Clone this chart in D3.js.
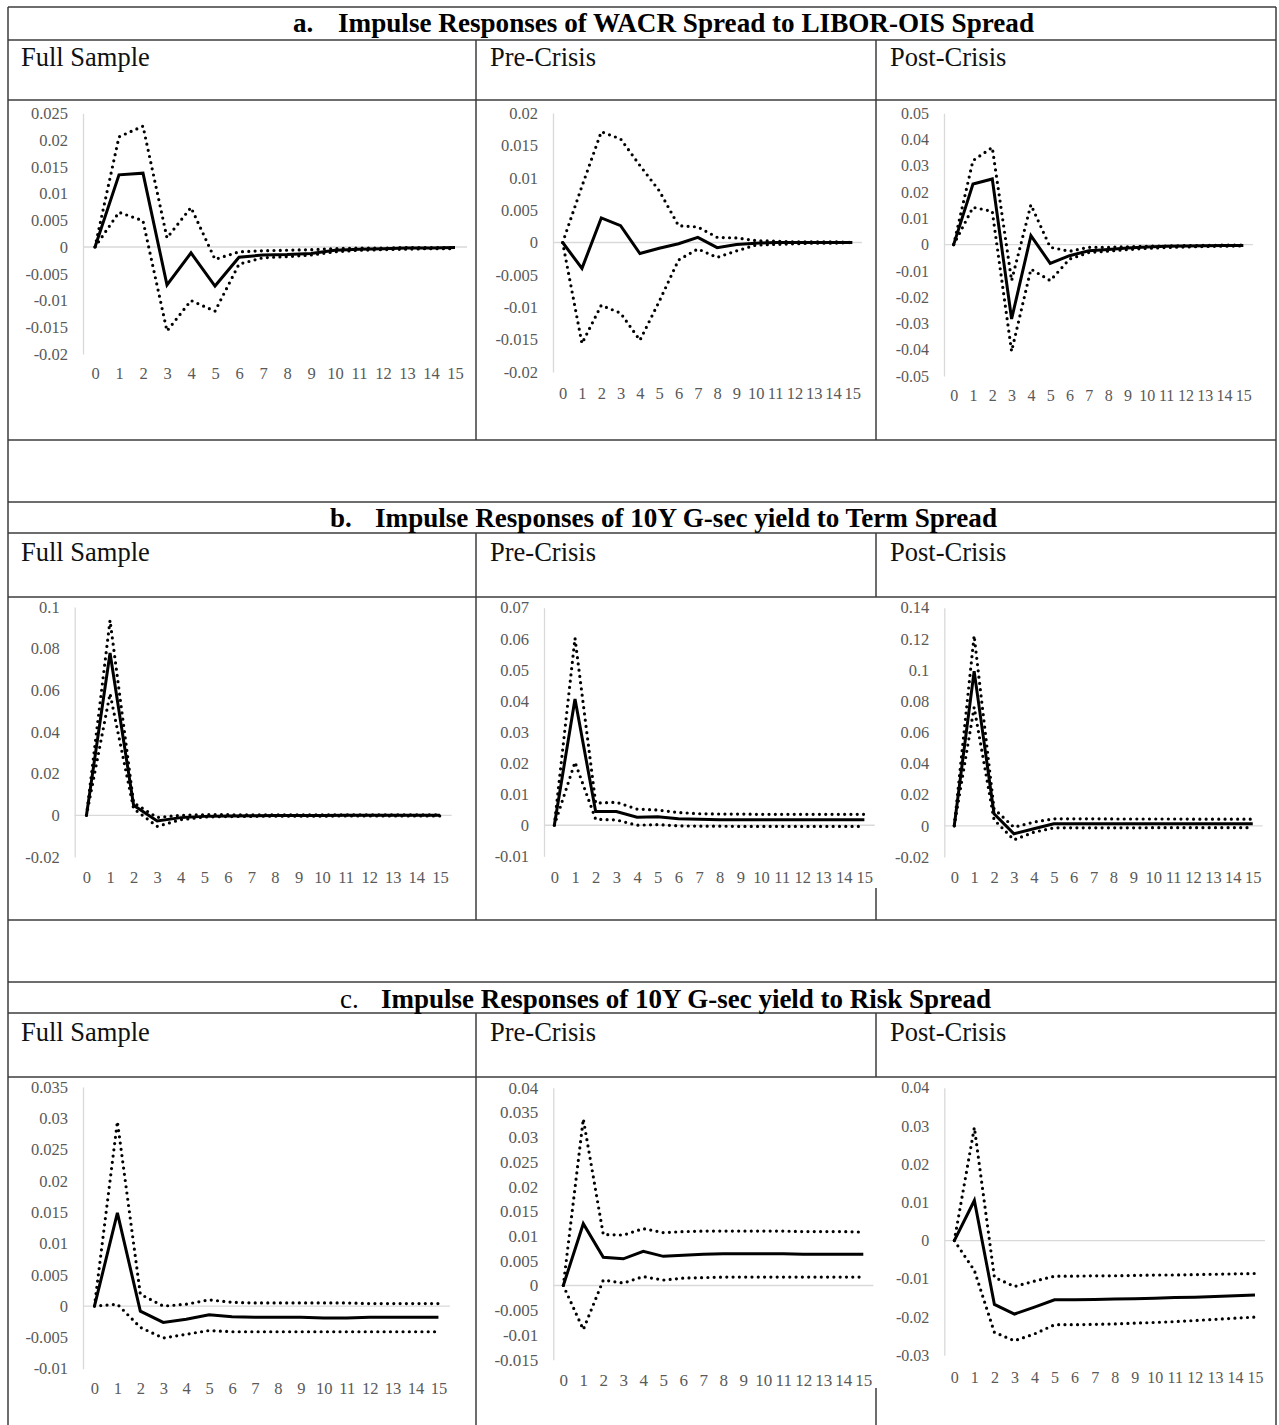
<!DOCTYPE html>
<html><head><meta charset="utf-8">
<script src="https://cdn.jsdelivr.net/npm/d3@7/dist/d3.min.js"></script>
<style>
html,body{margin:0;padding:0;background:#fff;}
svg{display:block;}
</style></head>
<body>
<svg id="chart" width="1279" height="1425"></svg>
<script>
// ---------- DATA ----------
const horizons = ["0","1","2","3","4","5","6","7","8","9","10","11","12","13","14","15"];
const sectionLetters = ["a.", "b.", "c."];
const sectionTitles = [
  "Impulse Responses of WACR Spread to LIBOR-OIS Spread",
  "Impulse Responses of 10Y G-sec yield to Term Spread",
  "Impulse Responses of 10Y G-sec yield to Risk Spread"
];
const sampleNames = ["Full Sample", "Pre-Crisis", "Post-Crisis"];

// a. WACR spread to LIBOR-OIS spread
const aFullIrf   = [0, 0.0135, 0.0138, -0.0071, -0.0011, -0.0073, -0.0019, -0.0015, -0.0014, -0.0012, -0.0006, -0.0004, -0.0003, -0.0002, -0.0002, -0.0001];
const aFullUpper = [0, 0.0206, 0.0226, 0.0017, 0.0074, -0.0023, -0.0009, -0.0007, -0.0006, -0.0005, -0.0003, -0.0002, -0.0002, -0.0001, -0.0001, -0.0001];
const aFullLower = [0, 0.0065, 0.0049, -0.0157, -0.0100, -0.0120, -0.0032, -0.0020, -0.0018, -0.0015, -0.0009, -0.0006, -0.0005, -0.0004, -0.0003, -0.0003];
const aFullTicks = [-0.02, -0.015, -0.01, -0.005, 0, 0.005, 0.01, 0.015, 0.02, 0.025];

const aPreIrf   = [0, -0.0040, 0.0038, 0.0026, -0.0017, -0.0009, -0.0002, 0.0008, -0.0008, -0.0003, -0.0001, 0, 0, 0, 0, 0];
const aPreUpper = [0, 0.0087, 0.0171, 0.0160, 0.0119, 0.0080, 0.0026, 0.0024, 0.0008, 0.0007, 0.0003, 0.0002, 0.0001, 0.0001, 0.0001, 0];
const aPreLower = [0, -0.0156, -0.0097, -0.0109, -0.0151, -0.0091, -0.0027, -0.0010, -0.0023, -0.0013, -0.0004, -0.0003, -0.0002, -0.0001, -0.0001, 0];
const aPreTicks = [-0.02, -0.015, -0.01, -0.005, 0, 0.005, 0.01, 0.015, 0.02];

const aPostIrf   = [0, 0.0231, 0.0250, -0.0283, 0.0034, -0.0071, -0.0042, -0.0023, -0.0018, -0.0013, -0.0009, -0.0006, -0.0005, -0.0004, -0.0003, -0.0003];
const aPostUpper = [0, 0.0320, 0.0370, -0.0137, 0.0152, -0.0010, -0.0025, -0.0010, -0.0010, -0.0008, -0.0006, -0.0005, -0.0004, -0.0003, -0.0002, -0.0002];
const aPostLower = [0, 0.0142, 0.0127, -0.0406, -0.0093, -0.0137, -0.0055, -0.0030, -0.0025, -0.0019, -0.0014, -0.0011, -0.0009, -0.0007, -0.0006, -0.0005];
const aPostTicks = [-0.05, -0.04, -0.03, -0.02, -0.01, 0, 0.01, 0.02, 0.03, 0.04, 0.05];

// b. 10Y G-sec yield to term spread
const bFullIrf   = [0, 0.0779, 0.0048, -0.0027, -0.0011, -0.0005, -0.0003, -0.0002, -0.0001, -0.0001, -0.0001, 0, 0, 0, 0, 0];
const bFullUpper = [0, 0.0936, 0.0060, -0.0010, 0.0000, 0.0003, 0.0003, 0.0002, 0.0002, 0.0002, 0.0002, 0.0002, 0.0002, 0.0002, 0.0002, 0.0002];
const bFullLower = [0, 0.0584, 0.0032, -0.0053, -0.0021, -0.0008, -0.0006, -0.0005, -0.0004, -0.0004, -0.0004, -0.0003, -0.0003, -0.0003, -0.0003, -0.0003];
const bFullTicks = [-0.02, 0, 0.02, 0.04, 0.06, 0.08, 0.1];

const bPreIrf   = [0, 0.0406, 0.0044, 0.0044, 0.0026, 0.0027, 0.0021, 0.0019, 0.0018, 0.0018, 0.0018, 0.0018, 0.0018, 0.0018, 0.0018, 0.0018];
const bPreUpper = [0, 0.0602, 0.0071, 0.0074, 0.0052, 0.0049, 0.0041, 0.0037, 0.0036, 0.0036, 0.0035, 0.0035, 0.0035, 0.0035, 0.0035, 0.0035];
const bPreLower = [0, 0.0203, 0.0019, 0.0017, 0.0000, 0.0002, -0.0002, -0.0003, -0.0003, -0.0004, -0.0004, -0.0004, -0.0004, -0.0004, -0.0004, -0.0004];
const bPreTicks = [-0.01, 0, 0.01, 0.02, 0.03, 0.04, 0.05, 0.06, 0.07];

const bPostIrf   = [0, 0.0993, 0.0077, -0.0051, -0.0019, 0.0013, 0.0013, 0.0013, 0.0013, 0.0013, 0.0013, 0.0013, 0.0013, 0.0013, 0.0013, 0.0013];
const bPostUpper = [0, 0.1221, 0.0109, -0.0009, 0.0024, 0.0045, 0.0045, 0.0045, 0.0044, 0.0044, 0.0044, 0.0044, 0.0043, 0.0043, 0.0043, 0.0043];
const bPostLower = [0, 0.0761, 0.0039, -0.0090, -0.0041, -0.0013, -0.0013, -0.0013, -0.0013, -0.0013, -0.0012, -0.0012, -0.0012, -0.0012, -0.0012, -0.0012];
const bPostTicks = [-0.02, 0, 0.02, 0.04, 0.06, 0.08, 0.1, 0.12, 0.14];

// c. 10Y G-sec yield to risk spread
const cFullIrf   = [0, 0.0149, -0.0008, -0.0026, -0.0021, -0.0014, -0.0017, -0.0018, -0.0018, -0.0018, -0.0019, -0.0019, -0.0018, -0.0018, -0.0018, -0.0018];
const cFullUpper = [0, 0.0295, 0.0019, 0.0000, 0.0003, 0.0010, 0.0006, 0.0005, 0.0005, 0.0005, 0.0005, 0.0005, 0.0004, 0.0004, 0.0004, 0.0004];
const cFullLower = [0, 0.0003, -0.0034, -0.0051, -0.0045, -0.0039, -0.0041, -0.0041, -0.0041, -0.0041, -0.0041, -0.0041, -0.0041, -0.0041, -0.0041, -0.0041];
const cFullTicks = [-0.01, -0.005, 0, 0.005, 0.01, 0.015, 0.02, 0.025, 0.03, 0.035];

const cPreIrf   = [0, 0.0125, 0.0057, 0.0054, 0.0069, 0.0059, 0.0061, 0.0063, 0.0064, 0.0064, 0.0064, 0.0064, 0.0063, 0.0063, 0.0063, 0.0063];
const cPreUpper = [0, 0.0337, 0.0103, 0.0102, 0.0115, 0.0107, 0.0109, 0.0110, 0.0110, 0.0110, 0.0110, 0.0110, 0.0109, 0.0109, 0.0109, 0.0108];
const cPreLower = [0, -0.0089, 0.0011, 0.0005, 0.0018, 0.0011, 0.0015, 0.0016, 0.0017, 0.0017, 0.0017, 0.0017, 0.0017, 0.0017, 0.0017, 0.0017];
const cPreTicks = [-0.015, -0.01, -0.005, 0, 0.005, 0.01, 0.015, 0.02, 0.025, 0.03, 0.035, 0.04];

const cPostIrf   = [0, 0.0105, -0.0167, -0.0192, -0.0174, -0.0155, -0.0155, -0.0154, -0.0153, -0.0152, -0.0151, -0.0149, -0.0148, -0.0146, -0.0144, -0.0142];
const cPostUpper = [0, 0.0296, -0.0096, -0.0120, -0.0106, -0.0093, -0.0093, -0.0092, -0.0092, -0.0091, -0.0090, -0.0090, -0.0089, -0.0088, -0.0087, -0.0086];
const cPostLower = [0, -0.0078, -0.0240, -0.0262, -0.0244, -0.0220, -0.0220, -0.0219, -0.0218, -0.0216, -0.0214, -0.0212, -0.0209, -0.0206, -0.0203, -0.0200];
const cPostTicks = [-0.03, -0.02, -0.01, 0, 0.01, 0.02, 0.03, 0.04];

// ---------- LAYOUT (pixel geometry, separate from data) ----------
const panels = [
  {irf:aFullIrf, up:aFullUpper, lo:aFullLower, ticks:aFullTicks, ax:83,    ex:467,    yt:113.3, yb:354,    xl:373,   fs:16.5},
  {irf:aPreIrf,  up:aPreUpper,  lo:aPreLower,  ticks:aPreTicks,  ax:553,   ex:862,    yt:113,   yb:372,    xl:393,   fs:16.5},
  {irf:aPostIrf, up:aPostUpper, lo:aPostLower, ticks:aPostTicks, ax:944,   ex:1253,   yt:113.3, yb:376,    xl:395,   fs:16},
  {irf:bFullIrf, up:bFullUpper, lo:bFullLower, ticks:bFullTicks, ax:74.7,  ex:451.7,  yt:607,   yb:857,    xl:877,   fs:16.5},
  {irf:bPreIrf,  up:bPreUpper,  lo:bPreLower,  ticks:bPreTicks,  ax:544,   ex:874.7,  yt:607.7, yb:856.3,  xl:877,   fs:16.5},
  {irf:bPostIrf, up:bPostUpper, lo:bPostLower, ticks:bPostTicks, ax:944.3, ex:1262.7, yt:607.7, yb:857,    xl:877,   fs:16.5},
  {irf:cFullIrf, up:cFullUpper, lo:cFullLower, ticks:cFullTicks, ax:83,    ex:449.9,  yt:1087,  yb:1368.7, xl:1388.7,fs:16.5},
  {irf:cPreIrf,  up:cPreUpper,  lo:cPreLower,  ticks:cPreTicks,  ax:553.3, ex:873.3,  yt:1087.7,yb:1359.7, xl:1380.3,fs:17},
  {irf:cPostIrf, up:cPostUpper, lo:cPostLower, ticks:cPostTicks, ax:944.3, ex:1265,   yt:1087.7,yb:1355.3, xl:1377,  fs:16}
];
const titleLayout = [{lx:293, tx:338, ex:1034, by:32}, {lx:330, tx:375, ex:997, by:527}, {lx:340, tx:381, ex:991, by:1008}];
const subBase = [66, 561, 1041];
const subX = [21, 490, 890];

const svg = d3.select("#chart");
const serif = "'Liberation Serif','Times New Roman',Times,serif";
const lineColor = "#3c3c3c";

// ---------- TABLE GRID ----------
const grid = svg.append("g").attr("stroke", lineColor).attr("stroke-width", 1.5);
const hLines = [7, 40, 100, 440, 502, 533, 597, 920, 982, 1013, 1077];
hLines.forEach(y => grid.append("line").attr("x1", 8).attr("x2", 1276).attr("y1", y).attr("y2", y));
grid.append("line").attr("x1", 8).attr("x2", 8).attr("y1", 7).attr("y2", 1425);
grid.append("line").attr("x1", 1276).attr("x2", 1276).attr("y1", 7).attr("y2", 1425);
const vSegs = [
  [476, 40, 440], [476, 533, 920], [476, 1013, 1425],
  [876, 40, 440], [876, 533, 597], [876, 888, 920], [876, 1013, 1077], [876, 1388, 1425]
];
vSegs.forEach(s => grid.append("line").attr("x1", s[0]).attr("x2", s[0]).attr("y1", s[1]).attr("y2", s[2]));

// ---------- TITLES ----------
sectionTitles.forEach((t, i) => {
  const L = titleLayout[i];
  svg.append("text").attr("x", L.lx).attr("y", L.by)
    .attr("font-family", serif).attr("font-size", 27)
    .attr("font-weight", i === 2 ? "normal" : "bold")
    .text(sectionLetters[i]);
  svg.append("text").attr("x", L.tx).attr("y", L.by)
    .attr("font-family", serif).attr("font-size", 27).attr("font-weight", "bold")
    .attr("textLength", L.ex - L.tx).attr("lengthAdjust", "spacingAndGlyphs")
    .text(t);
  sampleNames.forEach((n, j) => {
    svg.append("text").attr("x", subX[j]).attr("y", subBase[i])
      .attr("font-family", serif).attr("font-size", 26.5).attr("fill", "#111")
      .text(n);
  });
});

// ---------- CHARTS ----------
const fmt = v => String(+v.toFixed(3));
panels.forEach(p => {
  const g = svg.append("g");
  const x = d3.scalePoint().domain(horizons).range([p.ax, p.ex]).padding(0.5);
  const y = d3.scaleLinear().domain([p.ticks[0], p.ticks[p.ticks.length - 1]]).range([p.yb, p.yt]);

  g.append("line").attr("x1", p.ax).attr("x2", p.ex).attr("y1", y(0)).attr("y2", y(0))
    .attr("stroke", "#d9d9d9").attr("stroke-width", 1.3);

  const yAxis = g.append("g").attr("transform", `translate(${p.ax},0)`)
    .call(d3.axisLeft(y).tickValues(p.ticks).tickFormat(fmt).tickSize(0).tickSizeOuter(0).tickPadding(15));
  yAxis.select(".domain").attr("stroke", "#d9d9d9").attr("stroke-width", 1.3);
  yAxis.selectAll("text").attr("font-family", serif).attr("font-size", p.fs).attr("fill", "#595959");

  const xAxis = g.append("g").attr("transform", `translate(0,${p.xl})`)
    .call(d3.axisBottom(x).tickSize(0).tickPadding(0));
  xAxis.select(".domain").remove();
  xAxis.selectAll("text").attr("dy", "0.35em").attr("font-family", serif)
    .attr("font-size", p.fs).attr("fill", "#595959");

  const line = d3.line().x((d, i) => x(horizons[i])).y(d => y(d));
  [p.up, p.lo].forEach(s => {
    g.append("path").datum(s).attr("d", line).attr("fill", "none")
      .attr("stroke", "#000").attr("stroke-width", 3.2)
      .attr("stroke-linecap", "round").attr("stroke-dasharray", "0 6.3");
  });
  g.append("path").datum(p.irf).attr("d", line).attr("fill", "none")
    .attr("stroke", "#000").attr("stroke-width", 3).attr("stroke-linejoin", "miter");
});
</script>
</body></html>
